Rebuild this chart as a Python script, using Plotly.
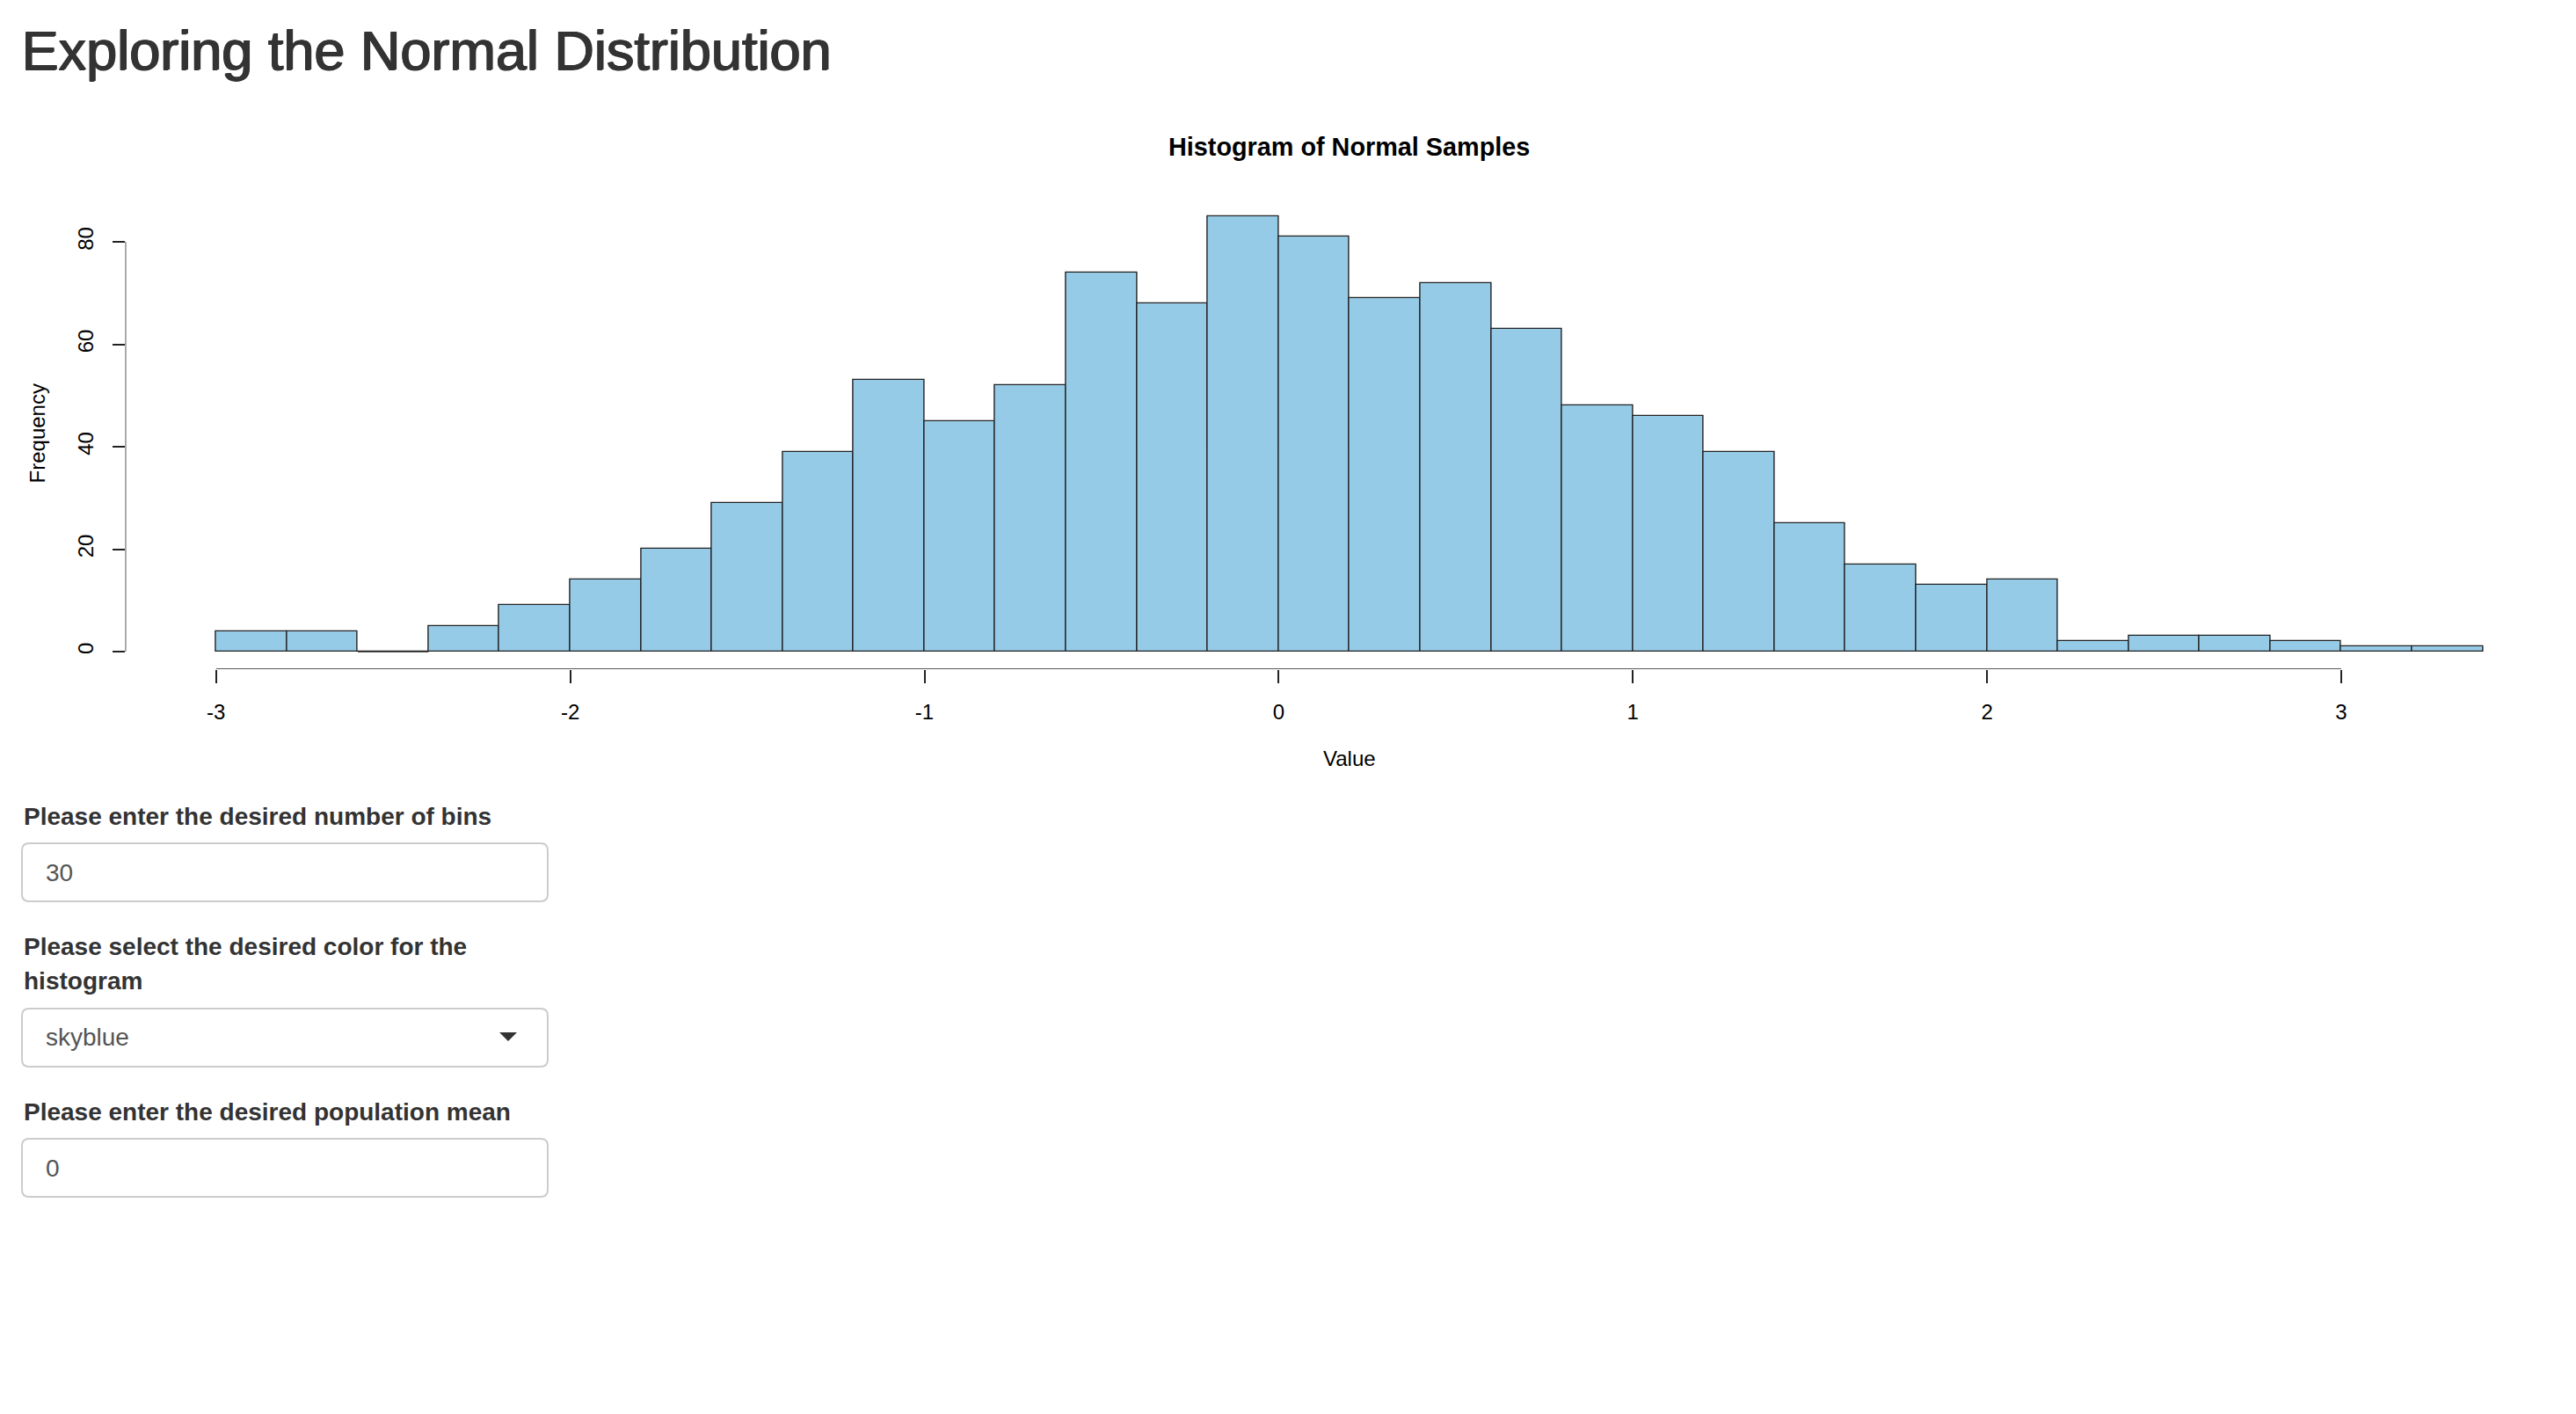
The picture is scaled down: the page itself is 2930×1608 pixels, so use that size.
import plotly.graph_objects as go

# histogram data
breaks = [-3.0, -2.8, -2.6, -2.4, -2.2, -2.0, -1.8, -1.6, -1.4, -1.2, -1.0,
          -0.8, -0.6, -0.4, -0.2, 0.0, 0.2, 0.4, 0.6, 0.8, 1.0, 1.2, 1.4,
          1.6, 1.8, 2.0, 2.2, 2.4, 2.6, 2.8, 3.0, 3.2, 3.4]
counts = [4, 4, 0, 5, 9, 14, 20, 29, 39, 53, 45, 52, 74, 68, 85, 81,
          69, 72, 63, 48, 46, 39, 25, 17, 13, 14, 2, 3, 3, 2, 1, 1]
x_ticks = [-3, -2, -1, 0, 1, 2, 3]
y_ticks = [0, 20, 40, 60, 80]

page_title = "Exploring the Normal Distribution"
plot_title = "Histogram of Normal Samples"
x_title = "Value"
y_title = "Frequency"
bins_label = "Please enter the desired number of bins"
bins_value = "30"
color_label = ["Please select the desired color for the", "histogram"]
color_value = "skyblue"
mean_label = "Please enter the desired population mean"
mean_value = "0"

FONT = "Liberation Sans, Arial, Helvetica, sans-serif"
BAR_FILL = "#96CBE8"
INK = "#222222"

# page is offset by the default 8px body margin
OFF_X, OFF_Y = 8, 6
FW, FH = 2930 - 16, 1608 - 16


def px(x):
    return (x - OFF_X) / FW


def py(y):
    return 1 - (y - OFF_Y) / FH


# R style limits: range of the breaks / counts, extended by 4%
xlim = [breaks[0], breaks[-1]]
dx = 0.04 * (xlim[1] - xlim[0])
xlim = [xlim[0] - dx, xlim[1] + dx]
ylim = [0, max(counts)]
dy = 0.04 * (ylim[1] - ylim[0])
ylim = [ylim[0] - dy, ylim[1] + dy]

centers = [(a + b) / 2 for a, b in zip(breaks[:-1], breaks[1:])]
widths = [b - a for a, b in zip(breaks[:-1], breaks[1:])]

# plot region in page pixels
plot_x0, plot_x1 = 142.6, 2927.3
plot_y0, plot_y1 = 224.1, 758.8

# the right edge of the R plot region falls past the figure; clip it
right_px = OFF_X + FW
x_right = xlim[0] + (right_px - plot_x0) / (plot_x1 - plot_x0) * (xlim[1] - xlim[0])

fig = go.Figure()
fig.add_trace(go.Bar(
    x=centers, y=counts, width=widths,
    marker=dict(color=BAR_FILL, line=dict(color=INK, width=1.4)),
    hoverinfo="x+y",
))

# empty bins still get their outline drawn along zero in R
for i, c in enumerate(counts):
    if c == 0:
        fig.add_shape(type="line", xref="x", yref="y",
                      x0=breaks[i], x1=breaks[i + 1], y0=0, y1=0,
                      line=dict(color=INK, width=1.4))

axis_font = dict(family=FONT, size=24, color="#000000")

fig.update_layout(
    width=FW, height=FH,
    margin=dict(l=0, r=0, t=0, b=0),
    paper_bgcolor="white", plot_bgcolor="white",
    showlegend=False, bargap=0,
    xaxis=dict(
        domain=[px(plot_x0), 1], range=[xlim[0], x_right],
        showgrid=False, zeroline=False, showline=False,
        tickvals=x_ticks, ticktext=[str(t) for t in x_ticks],
        ticks="outside", ticklen=15, tickwidth=1.5, tickcolor=INK,
        tickfont=axis_font, ticklabelstandoff=12,
    ),
    yaxis=dict(
        domain=[py(plot_y1), py(plot_y0)], range=ylim,
        showgrid=False, zeroline=False, showline=False,
        tickvals=y_ticks, ticktext=[str(t) for t in y_ticks],
        ticks="outside", ticklen=14, tickwidth=1.5, tickcolor=INK,
        tickfont=axis_font, tickangle=-90, ticklabelstandoff=12,
    ),
)

# R draws axis lines only over the tick span
fig.add_shape(type="line", xref="x", yref="y",
              x0=x_ticks[0], x1=x_ticks[-1], y0=ylim[0], y1=ylim[0],
              line=dict(color=INK, width=1.5))
fig.add_shape(type="line", xref="x", yref="y",
              x0=xlim[0], x1=xlim[0], y0=y_ticks[0], y1=y_ticks[-1],
              line=dict(color=INK, width=1.5))

annotations = []


def text(t, x, y, size, color, bold=False, xanchor="left", angle=0, shadow=None):
    font = dict(family=FONT, size=size, color=color)
    if shadow:
        font["shadow"] = shadow
    annotations.append(dict(
        text=f"<b>{t}</b>" if bold else t,
        x=px(x), y=py(y), xref="paper", yref="paper",
        xanchor=xanchor, yanchor="middle", showarrow=False,
        textangle=angle, font=font,
    ))


mid_x = (plot_x0 + plot_x1) / 2
# h2 is a medium weight; thicken the regular face a little
text(page_title, 22, 54.5, 63, "#333333",
     shadow="0.8px 0 0 #333333, 1.6px 0 0 #333333, 0 0.6px 0 #333333")
text(plot_title, mid_x, 165, 28.8, "#000000", bold=True, xanchor="center")
text(x_title, mid_x, 860, 24, "#000000", xanchor="center")
text(y_title, 42, (plot_y0 + plot_y1) / 2, 24, "#000000", xanchor="center", angle=-90)


# form controls below the plot
def rounded_box(x0, y0, x1, y1, r=8):
    pts = [("M", x0 + r, y0), ("L", x1 - r, y0), ("Q", x1, y0), ("", x1, y0 + r),
           ("L", x1, y1 - r), ("Q", x1, y1), ("", x1 - r, y1),
           ("L", x0 + r, y1), ("Q", x0, y1), ("", x0, y1 - r),
           ("L", x0, y0 + r), ("Q", x0, y0), ("", x0 + r, y0)]
    return " ".join(f"{c} {px(x):.6f},{py(y):.6f}".strip() for c, x, y in pts) + " Z"


box_x0, box_x1 = 25, 623
boxes = [(957, 1023), (1145, 1211), (1293, 1359)]
for y0, y1 in boxes:
    fig.add_shape(type="path", xref="paper", yref="paper",
                  path=rounded_box(box_x0, y0, box_x1, y1),
                  line=dict(color="#cccccc", width=2), fillcolor="white")

# dropdown caret
fig.add_shape(type="path", xref="paper", yref="paper",
              path=f"M {px(568)},{py(1172)} L {px(588)},{py(1172)} L {px(578)},{py(1182)} Z",
              line=dict(color="#333333", width=0), fillcolor="#333333")

text(bins_label, 25, 926.5, 28, "#333333", bold=True)
text(bins_value, 50, 990.5, 28, "#555555")
text(color_label[0], 25, 1074.5, 28, "#333333", bold=True)
text(color_label[1], 25, 1113.5, 28, "#333333", bold=True)
text(color_value, 50, 1177, 28, "#555555")
text(mean_label, 25, 1262.5, 28, "#333333", bold=True)
text(mean_value, 50, 1326, 28, "#555555")

fig.update_layout(annotations=annotations)

fig.write_html("out.html")
